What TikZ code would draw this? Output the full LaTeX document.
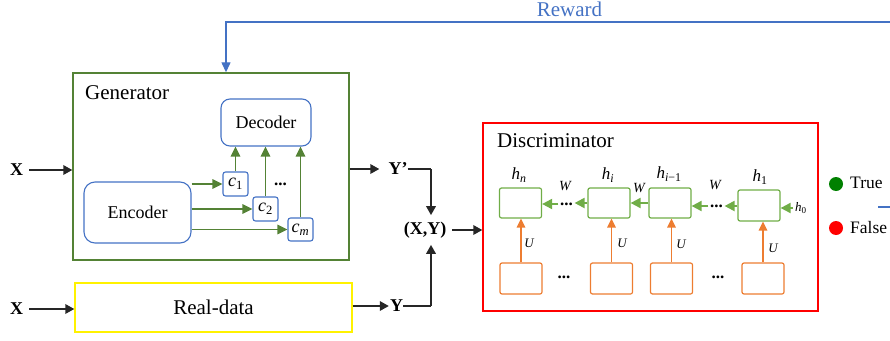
\documentclass[tikz,border=0pt]{standalone}
\usepackage{fontspec}
\IfFontExistsTF{LiberationSerif-Regular.ttf}
  {\setmainfont{LiberationSerif}[Extension=.ttf, UprightFont=*-Regular,
     BoldFont=*-Bold, ItalicFont=*-Italic, BoldItalicFont=*-BoldItalic]}
  {\setmainfont{Liberation Serif}}
\usetikzlibrary{arrows.meta,calc}

\definecolor{genG}{HTML}{548235}
\definecolor{hG}{HTML}{70AD47}
\definecolor{oC}{HTML}{ED7D31}
\definecolor{bC}{HTML}{4472C4}
\definecolor{trueG}{HTML}{008000}

\tikzset{
  fs/.style={font=\fontsize{#1}{#1}\selectfont},
  lbl/.style={inner sep=0pt},
  genbox/.style={draw=genG, line width=1.4pt, inner sep=0pt},
  rdbox/.style={draw=yellow, line width=1.4pt, inner sep=0pt},
  discbox/.style={draw=red, line width=1.4pt, inner sep=0pt},
  encdec/.style={draw=bC, line width=1.1pt, rounded corners=9pt, inner sep=0pt, fs=18},
  cbox/.style={draw=bC, line width=1.1pt, rounded corners=2.5pt, inner sep=0pt,
    minimum width=25pt, minimum height=24pt, fs=18},
  hbox/.style={draw=hG, line width=1.2pt, rounded corners=2pt, inner sep=0pt,
    minimum width=42pt, minimum height=30pt},
  obox/.style={draw=oC, line width=1.2pt, rounded corners=2pt, inner sep=0pt,
    minimum width=42pt, minimum height=31pt},
  arr/.style={draw=black!85, line width=1.8pt, -{Triangle[length=9pt,width=9.5pt]}},
  plain/.style={draw=black!85, line width=1.8pt},
  garr/.style={draw=genG, line width=1.7pt, -{Triangle[length=10pt,width=9.5pt]}},
  harr/.style={draw=hG, line width=2pt, -{Triangle[length=10pt,width=10pt]}},
  oarr/.style={draw=oC, line width=1.5pt, -{Triangle[length=9pt,width=8.5pt]}},
  rarr/.style={draw=bC, line width=1.3pt, -{Triangle[length=10pt,width=9pt]}},
  bx/.style={lbl, font=\fontsize{18}{18}\selectfont\bfseries},
  hl/.style={lbl, font=\fontsize{17}{17}\selectfont\itshape},
  wl/.style={lbl, font=\fontsize{14}{14}\selectfont\itshape},
  ul/.style={lbl, font=\fontsize{13}{13}\selectfont\itshape},
  dots/.style={lbl, font=\fontsize{17}{17}\selectfont\bfseries},
}

\begin{document}
\begin{tikzpicture}[x=1pt,y=-1pt]
\useasboundingbox (0,0) rectangle (890,340);

% ---------- generator ----------
\node[genbox, minimum width=276pt, minimum height=187pt] (gen) at (211,166.5) {};
\node[lbl, fs=21, anchor=base west] (gent) at (85,99) {Generator};
\node[encdec, minimum width=90pt, minimum height=47pt] (dec) at (266,122.5) {Decoder};
\node[encdec, minimum width=107pt, minimum height=61pt, rounded corners=11pt] (enc) at (137.5,212.5) {Encoder};
\node[cbox] (c1) at (235.5,184) {\textit{c}\textsubscript{1}};
\node[cbox] (c2) at (265.5,209) {\textit{c}\textsubscript{2}};
\node[cbox, minimum height=23pt] (cm) at (300.5,229.5) {\textit{c}\textsubscript{\textit{m}}};
\node[dots] (cdots) at (280.5,184) {...};

\draw[garr] (enc.east |- c1.west) -- (c1.west);
\draw[garr] (enc.east |- c2.west) -- (c2.west);
\draw[garr] (enc.east |- cm.west) -- (cm.west);
\draw[garr] (c1.north) -- (c1.north |- dec.south);
\draw[garr] (c2.north) -- (c2.north |- dec.south);
\draw[garr] (cm.north) -- (cm.north |- dec.south);

% ---------- real data ----------
\node[rdbox, minimum width=277pt, minimum height=49pt, fs=21] (rd) at (213.5,307.5) {Real-data};

% ---------- inputs and pairing ----------
\node[bx] (X1) at (16.5,170) {X};
\node[bx] (X2) at (16.5,309) {X};
\draw[arr, shorten <=6pt] (X1.east) -- (X1.east -| gen.west);
\draw[arr, shorten <=6pt] (X2.east) -- (X2.east -| rd.west);

\node[bx] (Yp) at (398,169) {Y’};
\node[bx] (Y2) at (396.5,306) {Y};
\node[bx, inner ysep=6.5pt] (XY) at (425,230) {(X,Y)};
\coordinate (vj) at (431,230);

\draw[arr, shorten >=9pt] (Yp.west -| gen.east) -- (Yp.west);
\draw[plain] (Yp.east) -- (Yp.east -| vj);
\draw[arr] (Yp.east -| vj) -- (vj |- XY.north);
\draw[arr, shorten >=1pt] (Y2.west -| rd.east) -- (Y2.west);
\draw[plain] (Y2.east) -- (Y2.east -| vj);
\draw[arr] (Y2.east -| vj) -- (vj |- XY.south);

% ---------- discriminator ----------
\node[discbox, minimum width=335pt, minimum height=188pt] (disc) at (650.5,217) {};
\draw[arr, shorten <=6pt] (XY.east) -- (XY.east -| disc.west);
\node[lbl, fs=21, anchor=base west] (disct) at (497,147) {Discriminator};

\node[hbox] (hn)  at (520.5,203) {};
\node[hbox] (hi)  at (609,203) {};
\node[hbox] (him) at (670,203) {};
\node[hbox, minimum height=31pt] (h1) at (759,205.5) {};

\node[hl] (lhn)  at (519,175) {h\textsubscript{n}};
\node[hl] (lhi)  at (608,175) {h\textsubscript{i}};
\node[hl] (lhim) at (669,174) {h\textsubscript{i\upshape −1}};
\node[hl] (lh1)  at (760,177) {h\textsubscript{\upshape 1}};

\node[dots, inner xsep=1.5pt] (d1) at (566.5,204) {...};
\node[dots, inner xsep=1.5pt] (d2) at (716.5,206) {...};
\draw[harr] (hi.west) -- (hi.west -| d1.east);
\draw[harr] (d1.west) -- (d1.west -| hn.east);
\draw[harr] (him.west) -- (him.west -| hi.east);
\draw[harr] (d2.east -| h1.west) -- (d2.east);
\draw[harr] (d2.west) -- (d2.west -| him.east);

\node[ul] (h0) at (801,208) {h\textsubscript{\upshape 0}};
\draw[harr, shorten <=2pt] (h0.west) -- (h0.west -| h1.east);

\node[wl] (w1) at (565,186) {W};
\node[wl] (w2) at (639,188) {W};
\node[wl] (w3) at (715,185) {W};

\node[obox] (o1) at (521,278.5) {};
\node[obox] (o2) at (611.5,278.5) {};
\node[obox] (o3) at (671.5,278.5) {};
\node[obox] (o4) at (763,278.5) {};
\node[dots] (od1) at (564,277) {...};
\node[dots] (od2) at (718,277) {...};

\draw[oarr] (o1.north) -- (o1.north |- hn.south);
\draw[oarr] (o2.north) -- (o2.north |- hi.south);
\draw[oarr] (o3.north) -- (o3.north |- him.south);
\draw[oarr] (o4.north) -- (o4.north |- h1.south);

\node[ul] (u1) at (529,243) {U};
\node[ul] (u2) at (622,243) {U};
\node[ul] (u3) at (681,244) {U};
\node[ul] (u4) at (773,248) {U};

% ---------- outcome legend ----------
\node[circle, fill=trueG, minimum size=14pt, inner sep=0pt] (ct) at (836,184) {};
\node[lbl, fs=17.5, anchor=west] (tt) at (850,183) {True};
\node[circle, fill=red, minimum size=14pt, inner sep=0pt] (cf) at (836,228) {};
\node[lbl, fs=17.5, anchor=west] (tf) at (850,228) {False};
\coordinate (bl) at (878,207);
\draw[draw=bC, line width=1.2pt] (bl) -- ++(12,0);

% ---------- reward feedback ----------
\coordinate (rwR) at (890,22);
\coordinate (rwT) at (226,22);
\draw[rarr] (rwR) -- (rwT) -- (rwT |- gen.north);
\node[lbl, fs=21, text=bC] (rwl) at (569.5,9) {Reward};
\end{tikzpicture}
\end{document}
